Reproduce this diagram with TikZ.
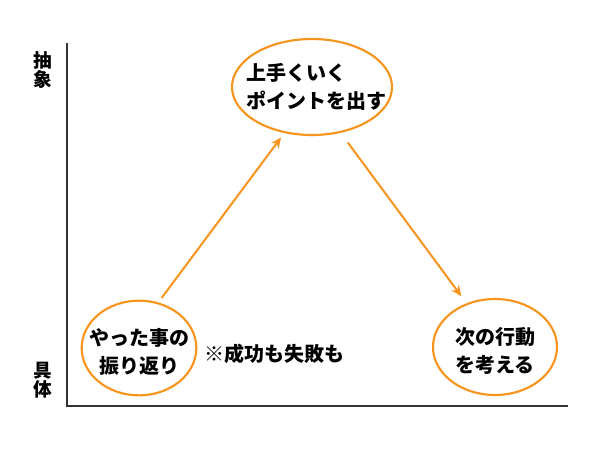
\documentclass[tikz,border=0pt]{standalone}
\usepackage{fontspec}
\setmainfont{Noto Sans CJK JP}
\usetikzlibrary{arrows.meta, shapes.geometric}
\definecolor{orng}{HTML}{F7941D}
\definecolor{axisgray}{HTML}{333333}

\begin{document}
\begin{tikzpicture}[x=0.75pt, y=-0.75pt,
    bubble/.style={ellipse, draw=orng, line width=1.6pt, inner sep=0pt},
    txt/.style={font=\fontsize{15}{21.5}\selectfont\bfseries},
    axislabel/.style={font=\fontsize{14}{14.5}\selectfont\bfseries, align=center},
    flow/.style={draw=orng, line width=1.5pt, -{Stealth[length=8pt, width=7pt]}}]
    \useasboundingbox (0,0) rectangle (600,450);
    % axes
    \coordinate (origin) at (67, 406);
    \coordinate (ytop) at (67, 43);
    \coordinate (xend) at (568, 406);
    \draw[axisgray, line width=1.8pt] (ytop) -- (origin) -- (xend);
    \node[axislabel] (abstract) at (43, 70) {抽\\象};
    \node[axislabel] (concrete) at (43, 380) {具\\体};
    % bubbles
    \node[bubble, minimum width=120pt, minimum height=72pt,
          label={[txt, align=left, xshift=3.5pt]center:上手くいく\\ポイントを出す}] (point) at (312, 87) {};
    \node[bubble, minimum width=86pt, minimum height=71pt,
          label={[txt, align=center, yshift=-3pt]center:やった事の\\振り返り}] (review) at (139, 348) {};
    \node[bubble, minimum width=93pt, minimum height=72pt,
          label={[txt, align=center, yshift=-3pt]center:次の行動\\を考える}] (next) at (495, 347) {};
    \node[txt] (note) at (274, 354) {※成功も失敗も};
    % arrows
    \draw[flow, shorten <=4pt, shorten >=4pt] (review.67) -- (point.239);
    \draw[flow, shorten <=9pt, shorten >=6.5pt] (point.302) -- (next.123);
\end{tikzpicture}
\end{document}
